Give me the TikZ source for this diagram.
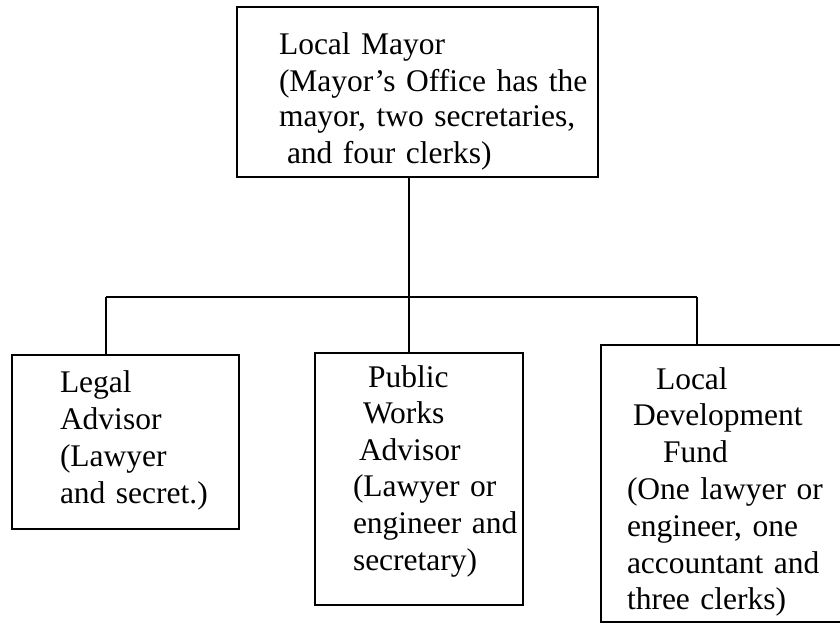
\documentclass[tikz,border=0pt]{standalone}
\usepackage{fontspec}
\setmainfont{Liberation Serif}
\begin{document}
\begin{tikzpicture}[x=1pt,y=-1pt,
  box/.style={draw, line width=1.6pt, rectangle, inner sep=0pt, outer sep=0pt, anchor=north west},
  txt/.style={anchor=base west, inner sep=0pt, outer sep=0pt, align=left, text width=450pt},
  conn/.style={line width=1.6pt}]
\useasboundingbox (0,0) rectangle (840,634);
% boxes
\node[box, minimum width=361pt, minimum height=170pt] (top) at (237,7) {};
\node[box, minimum width=227pt, minimum height=174pt] (left) at (12,355) {};
\node[box, minimum width=208pt, minimum height=252pt] (mid) at (315,353) {};
\node[box, minimum width=260pt, minimum height=277pt] (right) at (601,345) {};
% texts
\node[txt, font=\fontsize{31.5}{36}\selectfont] (toptxt) at (279,55)
  {Local Mayor\\(Mayor’s Office has the\\mayor, two secretaries,\\\hspace*{8pt}and four clerks)};
\node[txt, font=\fontsize{31.5}{37}\selectfont] (lefttxt) at (60,392)
  {Legal\\Advisor\\(Lawyer\\and secret.)};
\node[txt, font=\fontsize{31.5}{36.6}\selectfont] (midtxt) at (353,387)
  {\hspace*{15pt}Public\\\hspace*{10pt}Works\\\hspace*{6pt}Advisor\\(Lawyer or\\engineer and\\secretary)};
\node[txt, font=\fontsize{31.5}{36.8}\selectfont] (righttxt) at (627,389)
  {\hspace*{29pt}Local\\\hspace*{6pt}Development\\\hspace*{36pt}Fund\\(One lawyer or\\engineer, one\\accountant and\\three clerks)};
% junctions
\coordinate (j) at (409,297);
\coordinate (jl) at (106,297);
\coordinate (jr) at (697,297);
% connectors
\draw[conn] (j |- top.south) -- (j);
\draw[conn] (jl) -- (jr);
\draw[conn] (j) -- (j |- mid.north);
\draw[conn] (jl) -- (jl |- left.north);
\draw[conn] (jr) -- (jr |- right.north);
\end{tikzpicture}
\end{document}
